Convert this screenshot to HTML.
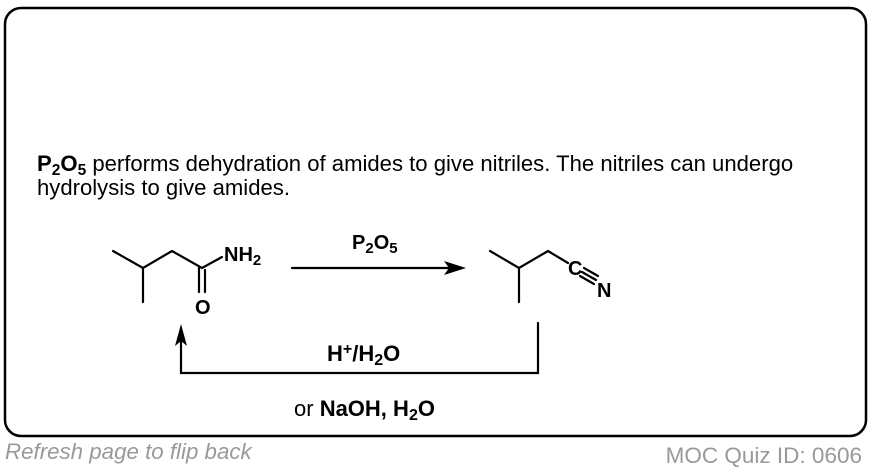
<!DOCTYPE html>
<html><head><meta charset="utf-8"><style>
html,body{margin:0;padding:0;background:#fff;width:872px;height:470px;overflow:hidden}
svg{display:block}
text{font-family:"Liberation Sans",Arial,sans-serif}
</style></head><body>
<svg width="872" height="470" viewBox="0 0 872 470">
<rect x="5" y="8" width="861" height="428" rx="16" ry="16" fill="#fff" stroke="#000" stroke-width="2.5"/>
<text x="37" y="171" font-size="22.1" fill="#000"><tspan font-weight="bold">P<tspan font-size="15.5" dy="4">2</tspan><tspan dy="-4">O</tspan><tspan font-size="15.5" dy="4">5</tspan></tspan><tspan dy="-4"> performs dehydration of amides to give nitriles. The nitriles can undergo</tspan></text>
<text x="37" y="195" font-size="22.1" fill="#000">hydrolysis to give amides.</text>
<g stroke="#000" stroke-width="2.2" fill="none" stroke-linecap="round">
<polyline points="113,251 143,268 172,251 202,268 222,257"/>
<line x1="143" y1="268" x2="143" y2="302"/>
<line x1="199" y1="268" x2="199" y2="292"/>
<line x1="205" y1="270" x2="205" y2="292"/>
<polyline points="490,251 519,268 548,251 568,263"/>
<line x1="519" y1="268" x2="519" y2="302"/>
<line x1="584" y1="268" x2="598" y2="276"/>
<line x1="582" y1="272" x2="596" y2="280"/>
<line x1="580" y1="276" x2="594" y2="284"/>
<line x1="292" y1="268" x2="450" y2="268"/>
<polyline points="538,323 538,373 181,373 181,340"/>
</g>
<polygon points="466,268 444,261 449,268 444,275" fill="#000"/>
<polygon points="181,324 175,346 181,341 187,346" fill="#000"/>
<g font-weight="bold" fill="#000">
<text x="224" y="261" font-size="20">NH<tspan font-size="15" dy="4">2</tspan></text>
<text x="195" y="314" font-size="20">O</text>
<text x="568" y="275" font-size="20">C</text>
<text x="597" y="297" font-size="20">N</text>
<text x="352" y="249" font-size="20">P<tspan font-size="15" dy="4">2</tspan><tspan dy="-4">O</tspan><tspan font-size="15" dy="4">5</tspan></text>
<text x="327" y="361" font-size="22">H<tspan font-size="16" dy="-7">+</tspan><tspan dy="7">/H</tspan><tspan font-size="16" dy="4">2</tspan><tspan dy="-4">O</tspan></text>
</g>
<text x="294" y="416" font-size="22">or <tspan font-weight="bold">NaOH, H<tspan font-size="16" dy="4">2</tspan><tspan dy="-4">O</tspan></tspan></text>
<text x="5" y="459" font-size="22.3" font-style="italic" fill="#999">Refresh page to flip back</text>
<text x="862" y="463" font-size="22.5" fill="#999" text-anchor="end">MOC Quiz ID: 0606</text>
</svg>
</body></html>
